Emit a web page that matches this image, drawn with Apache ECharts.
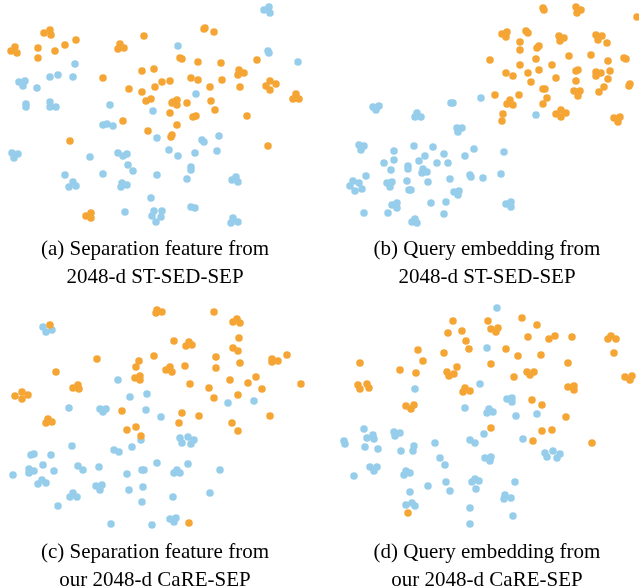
<!DOCTYPE html>
<html><head><meta charset="utf-8">
<script src="https://cdn.jsdelivr.net/npm/echarts@6/dist/echarts.min.js"></script>
<style>html,body{margin:0;padding:0;background:#fff}#c{width:639px;height:588px}</style>
</head><body><div id="c"></div>
<script>
// Embedding points per panel (coordinates in each panel's embedding space)
const A_orange = [[44,33],[50,30],[51,35],[15,47],[11,51],[17,53],[38,48],[38,58],[55,51],[65,45],[76,40],[144,36],[120,44],[118,49],[124,48],[103,78],[142,71],[154,69],[129,89],[142,92],[155,87],[146,101],[151,99],[123,121],[148,131],[70,141],[86,216],[91,213],[91,218],[204,29],[205,28],[214,32],[180,58],[182,59],[198,62],[221,63],[257,60],[239,70],[238,75],[244,73],[162,82],[170,81],[191,78],[198,80],[222,80],[210,87],[240,87],[270,81],[266,86],[276,84],[270,90],[296,94],[293,99],[299,99],[173,102],[177,100],[177,105],[172,103],[187,103],[211,101],[215,110],[170,113],[193,117],[196,116],[247,116],[177,125],[171,137],[172,135],[268,146]];
const A_blue = [[75,64],[19,82],[25,81],[23,86],[37,88],[50,77],[58,75],[73,77],[26,104],[26,107],[50,102],[50,107],[56,107],[110,105],[103,125],[107,124],[113,126],[153,111],[157,138],[12,153],[14,158],[18,154],[90,157],[118,153],[123,156],[127,154],[128,165],[133,171],[65,175],[103,174],[69,187],[73,182],[76,186],[121,187],[122,183],[127,185],[157,175],[151,198],[125,212],[154,211],[162,211],[161,217],[156,222],[152,216],[264,10],[269,7],[270,13],[178,46],[268,51],[269,53],[298,62],[196,94],[202,140],[204,142],[219,136],[169,150],[178,156],[195,153],[217,151],[191,167],[191,170],[187,179],[232,180],[236,177],[238,182],[191,207],[195,208],[233,218],[231,223],[238,222]];
const B_blue = [[373,107],[379,106],[376,110],[417,113],[415,117],[421,117],[451,103],[453,103],[481,98],[457,128],[462,128],[458,132],[359,145],[364,146],[361,150],[394,151],[414,146],[433,147],[384,163],[394,160],[391,170],[408,166],[408,169],[419,161],[425,156],[444,154],[437,163],[448,163],[423,169],[422,173],[427,172],[465,156],[474,149],[366,176],[353,181],[350,186],[355,191],[359,183],[362,189],[387,183],[392,182],[390,187],[407,181],[409,190],[411,190],[428,182],[450,179],[470,175],[471,177],[483,178],[454,192],[459,191],[458,195],[392,205],[397,203],[397,208],[364,213],[388,213],[431,203],[446,202],[444,214],[412,222],[415,219],[417,223],[536,115],[504,152],[501,174],[506,204],[511,202],[511,207]];
const B_orange = [[490,60],[543,8],[544,10],[576,7],[581,10],[577,13],[637,17],[502,34],[507,32],[506,37],[526,31],[528,33],[559,36],[564,38],[560,41],[596,35],[602,36],[598,40],[607,43],[520,42],[520,50],[537,48],[539,46],[569,56],[591,55],[536,59],[624,58],[626,59],[608,61],[520,65],[552,65],[506,73],[513,76],[528,73],[539,70],[556,78],[576,71],[578,70],[596,72],[601,73],[596,76],[610,71],[608,79],[576,81],[531,82],[543,89],[545,89],[630,84],[629,86],[604,87],[599,92],[574,91],[580,91],[578,96],[495,95],[519,95],[547,98],[510,100],[507,104],[513,105],[543,104],[503,114],[502,121],[556,114],[561,110],[566,113],[561,117],[614,118],[620,117],[618,122]];
const C_orange = [[50,325],[156,313],[157,310],[162,312],[97,359],[154,356],[139,361],[136,367],[135,378],[140,376],[140,380],[56,372],[73,388],[78,385],[79,389],[15,396],[22,392],[28,395],[22,399],[122,411],[46,423],[48,419],[52,422],[127,430],[136,427],[141,436],[214,312],[233,322],[237,319],[240,323],[174,341],[186,346],[189,342],[192,345],[239,338],[233,348],[238,351],[216,357],[240,363],[272,359],[272,362],[278,361],[287,355],[166,370],[170,367],[172,372],[185,366],[216,368],[190,384],[209,388],[230,380],[248,383],[256,377],[262,389],[301,384],[214,398],[238,395],[182,413],[199,416],[179,423],[232,423],[238,431],[270,416],[189,523]];
const C_blue = [[43,327],[46,332],[52,330],[118,380],[130,397],[147,394],[69,408],[100,409],[103,412],[106,409],[146,410],[161,417],[141,440],[72,446],[114,450],[119,452],[132,447],[31,455],[34,454],[51,455],[43,465],[29,469],[29,473],[34,471],[54,471],[13,475],[78,466],[83,470],[99,467],[157,463],[127,474],[142,470],[144,470],[38,484],[42,480],[46,483],[96,486],[102,485],[100,490],[129,490],[143,487],[70,497],[73,493],[77,497],[142,502],[58,506],[111,524],[152,525],[228,403],[254,401],[180,438],[182,443],[188,437],[191,444],[194,440],[188,464],[174,473],[177,470],[180,473],[220,470],[173,497],[210,493],[170,519],[174,522],[176,518]];
const D_orange = [[453,321],[488,321],[448,333],[462,331],[466,341],[469,349],[418,350],[444,353],[423,361],[360,363],[400,370],[416,373],[447,372],[449,376],[454,374],[457,367],[491,364],[358,385],[360,389],[367,384],[369,388],[465,388],[463,392],[470,391],[406,406],[411,409],[414,405],[491,428],[408,513],[491,329],[496,332],[498,328],[522,318],[537,325],[528,337],[549,339],[555,336],[572,337],[608,339],[611,336],[616,339],[506,349],[518,356],[541,355],[568,363],[614,353],[527,372],[530,375],[534,372],[514,377],[568,387],[574,386],[574,390],[625,377],[630,380],[632,376],[532,400],[542,405],[566,417],[542,431],[552,430],[533,441],[592,443]];
const D_blue = [[487,348],[480,384],[415,389],[465,408],[487,413],[489,409],[493,412],[364,429],[344,441],[345,444],[367,438],[373,435],[374,439],[365,447],[378,449],[394,432],[395,436],[400,433],[414,446],[413,451],[401,451],[435,443],[470,440],[475,443],[484,434],[485,458],[491,457],[490,461],[440,458],[445,465],[370,467],[374,471],[377,467],[354,476],[404,475],[406,471],[410,473],[472,482],[475,479],[479,481],[476,489],[446,482],[450,491],[428,486],[410,492],[406,505],[412,503],[415,506],[470,508],[470,524],[497,308],[507,399],[512,398],[512,402],[516,416],[537,414],[523,439],[545,453],[547,457],[553,451],[557,458],[560,454],[515,482],[505,495],[504,499],[511,498],[513,516]];

const captions = [
  ["(a) Separation feature from", "2048-d ST-SED-SEP"],
  ["(b) Query embedding from", "2048-d ST-SED-SEP"],
  ["(c) Separation feature from", "our 2048-d CaRE-SEP"],
  ["(d) Query embedding from", "our 2048-d CaRE-SEP"]
];
const xRanges = [[0,320],[320,639],[0,320],[320,639]];
const yRanges = [[0,240],[0,240],[300,540],[300,540]];
const panels = [[A_blue, A_orange],[B_blue, B_orange],[C_blue, C_orange],[D_blue, D_orange]];

const ORANGE = '#F5A534', BLUE = '#96CDEA';
const gridPos = [
  {left:0, top:0, width:320, height:240},
  {left:320, top:0, width:319, height:240},
  {left:0, top:300, width:320, height:240},
  {left:320, top:300, width:319, height:240}
];
const grid = gridPos.map(g => Object.assign({containLabel:false}, g));
const xAxis = xRanges.map((r,i) => ({type:'value', gridIndex:i, min:r[0], max:r[1], show:false}));
const yAxis = yRanges.map((r,i) => ({type:'value', gridIndex:i, min:r[0], max:r[1], inverse:true, show:false}));
const series = [];
panels.forEach((p,i) => {
  series.push({type:'scatter', xAxisIndex:i, yAxisIndex:i, data:p[0], symbolSize:7.5, itemStyle:{color:BLUE, opacity:1}, silent:true, animation:false});
  series.push({type:'scatter', xAxisIndex:i, yAxisIndex:i, data:p[1], symbolSize:7.5, itemStyle:{color:ORANGE, opacity:1}, silent:true, animation:false});
});
const capCenters = [[155,249],[487,249],[155,552],[487,552]];
const graphic = [];
captions.forEach((c,i) => {
  c.forEach((line,j) => {
    graphic.push({type:'text', x:capCenters[i][0], y:capCenters[i][1] + j*28,
      style:{text:line, font:'21px "Liberation Serif"', fill:'#000', align:'center', verticalAlign:'middle'}});
  });
});
const chart = echarts.init(document.getElementById('c'), null, {renderer:'canvas'});
chart.setOption({animation:false, grid, xAxis, yAxis, series, graphic});
</script>
</body></html>
